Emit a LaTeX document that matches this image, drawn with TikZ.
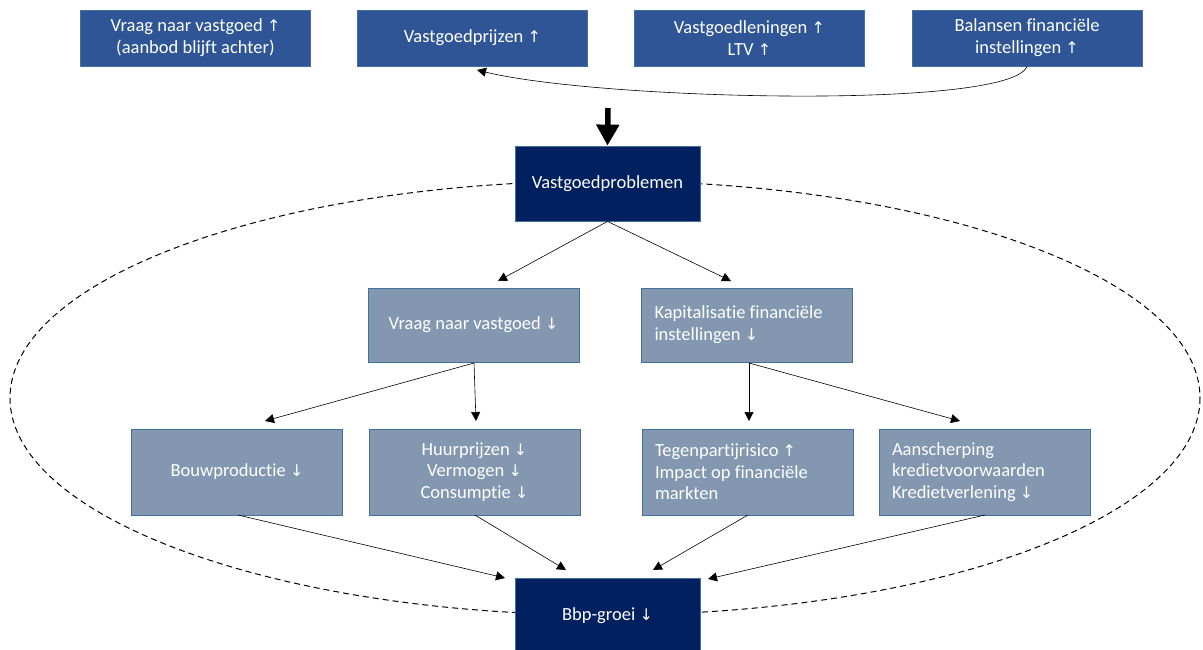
\documentclass[tikz,border=0pt]{standalone}
\usepackage{fontspec}
\setmainfont{Carlito}[Ligatures=NoCommon]
\newfontfamily\arrowfont{DejaVu Sans}
\usetikzlibrary{arrows.meta}
\newcommand{\up}{{\arrowfont\fontsize{16}{16}\selectfont ↑}}
\newcommand{\dn}{{\arrowfont\fontsize{16}{16}\selectfont ↓}}
\definecolor{topblue}{HTML}{2F5597}
\definecolor{midgrey}{HTML}{8497B0}
\definecolor{navy}{HTML}{002060}
\definecolor{edgeblue}{HTML}{41719C}
\tikzset{
  box/.style={draw=edgeblue, line width=0.8pt, inner sep=0pt, text=white,
    font=\fontsize{18.5}{21.7}\selectfont, align=center},
  topbox/.style={box, fill=topblue, minimum width=230pt, minimum height=56pt},
  navybox/.style={box, fill=navy, minimum width=185pt, minimum height=75pt},
  midbox/.style={box, fill=midgrey, minimum width=211pt, minimum height=74pt},
  lowbox/.style={box, fill=midgrey, minimum width=211pt, minimum height=86pt},
  link/.style={line width=0.6pt, -{Triangle[width=9pt,length=9pt]}},
}
\begin{document}
\begin{tikzpicture}[x=1pt, y=-1pt]
\useasboundingbox (0,0) rectangle (1203,650);

% dashed loop behind the central boxes
\draw[line width=1pt, dash pattern=on 6pt off 4pt] (605,398) ellipse [x radius=595, y radius=217];

% top row
\node[topbox] (b1) at (195.5,38) {Vraag naar vastgoed \up\\(aanbod blijft achter)};
\node[topbox] (b2) at (472.5,38) {Vastgoedprijzen \up};
\node[topbox] (b3) at (749.5,38) {Vastgoedleningen \up\\LTV \up};
\node[topbox] (b4) at (1027,38) {Balansen financiële\\instellingen \up};

% central nodes
\node[navybox] (vp) at (607.5,183.5) {Vastgoedproblemen};
\node[midbox] (m1) at (473.5,325) {Vraag naar vastgoed \dn};
\node[midbox] (m2) at (747,325) {\begin{minipage}{185pt}\raggedright Kapitalisatie financiële\\instellingen \dn\end{minipage}};

\node[lowbox] (l1) at (237,472) {Bouwproductie \dn};
\node[lowbox] (l2) at (474.5,472) {Huurprijzen \dn\\Vermogen \dn\\Consumptie \dn};
\node[lowbox] (l3) at (747.5,472) {\begin{minipage}{185pt}\raggedright Tegenpartijrisico \up\\Impact op financiële\\markten\end{minipage}};
\node[lowbox] (l4) at (984.5,472) {\begin{minipage}{185pt}\raggedright Aanscherping\\kredietvoorwaarden\\Kredietverlening \dn\end{minipage}};

\node[navybox] (gdp) at (607.5,615.5) {Bbp-groei \dn};

% feedback curve between the top boxes
\coordinate (fbend) at (477,70);
\draw[link] (b4.south) .. controls (1010,110) and (600,100) .. (fbend);

% heavy arrow into the central problem box
\coordinate (heavytop) at (608,108);
\draw[line width=5.5pt, -{Triangle[width=22pt,length=21pt]}] (heavytop) -- (vp.north);

% connector end points just off the box edges
\coordinate (m1in) at (498,281);
\coordinate (m2in) at (731,281);
\coordinate (m1out) at (474,363);
\coordinate (m2out) at (749,363);
\coordinate (l1in) at (265,421);
\coordinate (l2in) at (476,421);
\coordinate (l3in) at (749,421);
\coordinate (l4in) at (960,421);
\coordinate (l1out) at (238,515);
\coordinate (l2out) at (475,515);
\coordinate (l3out) at (748,515);
\coordinate (l4out) at (985,515);
\coordinate (g1) at (505,578);
\coordinate (g2) at (566,570);
\coordinate (g3) at (653,570);
\coordinate (g4) at (708,579);

\draw[link] (vp.south) -- (m1in);
\draw[link] (vp.south) -- (m2in);
\draw[link] (m1out) -- (l1in);
\draw[link] (m1out) -- (l2in);
\draw[link] (m2out) -- (l3in);
\draw[link] (m2out) -- (l4in);
\draw[link] (l1out) -- (g1);
\draw[link] (l2out) -- (g2);
\draw[link] (l3out) -- (g3);
\draw[link] (l4out) -- (g4);
\end{tikzpicture}
\end{document}
